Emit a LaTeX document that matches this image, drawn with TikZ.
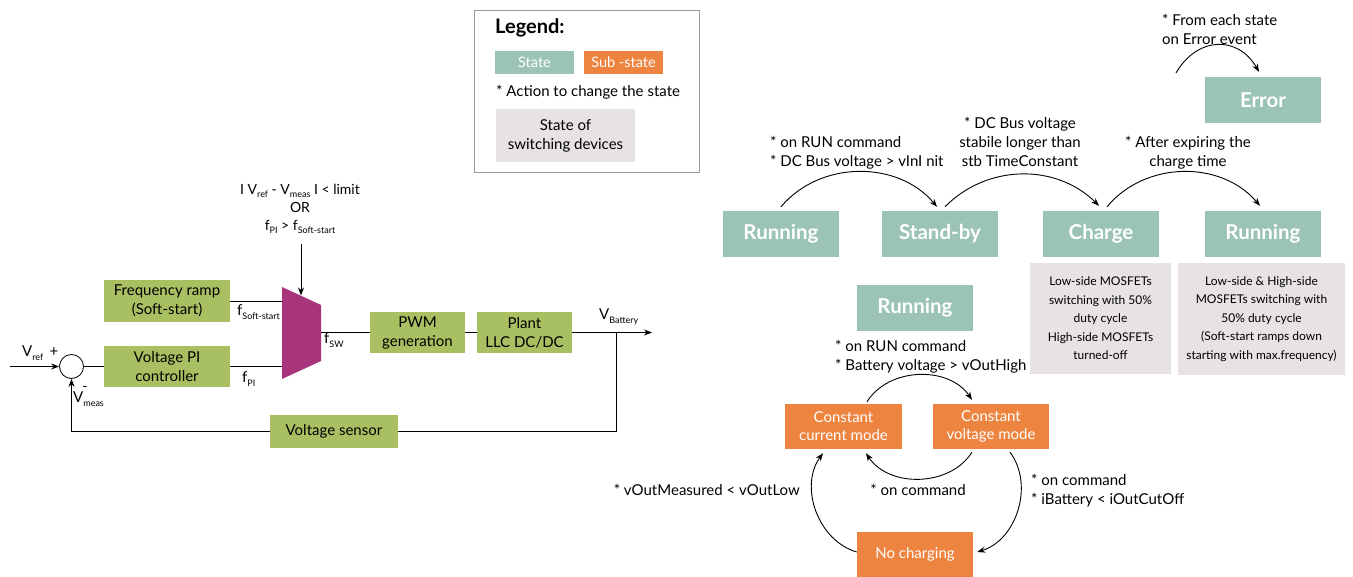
\documentclass[tikz,border=0pt]{standalone}
\usepackage{fontspec}
\setmainfont{Lato}
\usetikzlibrary{arrows.meta,calc}
\definecolor{stcol}{HTML}{9BC4B7}
\definecolor{subcol}{HTML}{ED843F}
\definecolor{gcol}{HTML}{E7E3E2}
\definecolor{olv}{HTML}{A9C062}
\definecolor{muxcol}{HTML}{A8347B}
\definecolor{legcol}{HTML}{A09AA0}
\newcommand\lo[1]{\raisebox{-0.45ex}{\fontsize{9}{10}\selectfont #1}}
\tikzset{
  stbox/.style={fill=stcol,text=white,font=\bfseries\fontsize{20.5}{24}\selectfont,minimum width=116pt,minimum height=46pt,inner sep=0pt},
  subbox/.style={fill=subcol,text=white,font=\fontsize{15}{18}\selectfont,align=center,minimum width=116pt,minimum height=45pt,inner sep=0pt},
  blk/.style={fill=olv,font=\fontsize{15}{19}\selectfont,align=center,inner sep=0pt,minimum height=41pt},
  info/.style={fill=gcol,font=\fontsize{12}{18.5}\selectfont,align=center,inner sep=0pt},
  lbl/.style={font=\fontsize{15}{19}\selectfont,inner sep=0pt},
  arr/.style={-{Stealth[length=8pt,width=6pt]},line width=0.9pt},
  ln/.style={line width=0.9pt}
}
\begin{document}
\begin{tikzpicture}[x=1pt,y=1pt]
\useasboundingbox (0,0) rectangle (1353,-577);
% ---------- left block diagram ----------
\node[blk,minimum width=126pt,minimum height=42pt] (fr) at (167,-301) {Frequency ramp\\(Soft-start)};
\node[blk,minimum width=126pt] (pi) at (167,-366.5) {Voltage PI\\controller};
\node[draw,circle,line width=0.8pt,minimum size=24pt,inner sep=0pt] (sum) at (71.5,-366.5) {};
\node[blk,minimum width=95pt] (pwm) at (417.5,-332.5) {PWM\\generation};
\node[blk,minimum width=95pt] (plant) at (524.5,-332.5) {Plant\\LLC DC/DC};
\node[blk,minimum width=128pt,minimum height=33pt] (sens) at (334,-431.5) {Voltage sensor};
\fill[muxcol] (282,-287) -- (321,-305) -- (321,-361) -- (282,-379) -- cycle;
\coordinate (muxa) at (282,-301);
\coordinate (muxb) at (282,-366.5);
\coordinate (muxo) at (321,-332.5);
\coordinate (muxt) at (301,-295.5);
\coordinate (ctop) at (301,-244);
\coordinate (vin) at (10,-366.5);
\coordinate (vout) at (652,-332.5);
\coordinate (br) at (616,-332.5);
\coordinate (fb) at (616,-431.5);
\coordinate (fbl) at (71.5,-431.5);
\draw[arr] (vin) -- (sum);
\draw[ln] (sum) -- (pi);
\draw[ln] (fr.east) -- (muxa);
\draw[ln] (pi.east) -- (muxb);
\draw[arr] (ctop) -- (muxt);
\draw[ln] (muxo) -- (pwm);
\draw[ln] (pwm) -- (plant);
\draw[arr] (plant) -- (vout);
\draw[ln] (br) -- (fb) -- (sens);
\draw[arr] (sens) -- (fbl) -- (sum);
\node[lbl,font=\fontsize{14}{18}\selectfont,align=center] (cond) at (300,-209) {I V\lo{ref} - V\lo{meas} I < limit\\OR\\f\lo{PI} > f\lo{Soft-start}};
\node[lbl,anchor=west] (lfs) at (237,-312) {f\lo{Soft-start}};
\node[lbl,anchor=west] (lfpi) at (242,-379) {f\lo{PI}};
\node[lbl,anchor=west] (lfsw) at (324,-340) {f\lo{SW}};
\node[lbl,anchor=west] (lvb) at (599,-317) {V\lo{Battery}};
\node[lbl,anchor=west] (lvr) at (22,-353) {V\lo{ref}};
\node[lbl] (lplus) at (54,-352) {+};
\node[lbl,anchor=west] (lvm) at (73,-399) {V\lo{meas}};
\node[lbl] (lminus) at (85,-389) {-};
% ---------- legend ----------
\draw[legcol,line width=1pt] (474,-11) rectangle (699,-173);
\node[anchor=west,font=\bfseries\fontsize{20}{22}\selectfont,inner sep=0pt] (leg) at (495,-28) {Legend:};
\node[fill=stcol,text=white,font=\fontsize{14.5}{16}\selectfont,minimum width=79pt,minimum height=23pt,inner sep=0pt] (lst) at (534.5,-62.5) {State};
\node[fill=subcol,text=white,font=\fontsize{14.5}{16}\selectfont,minimum width=79pt,minimum height=23pt,inner sep=0pt] (lsub) at (623.5,-62.5) {Sub -state};
\node[lbl,anchor=west] (lact) at (496,-92) {* Action to change the state};
\node[info,font=\fontsize{15}{19}\selectfont,minimum width=139pt,minimum height=53pt] (lsw) at (565.5,-135.5) {State of\\switching devices};
% ---------- top state machine ----------
\node[stbox] (run1) at (781,-234) {Running};
\node[stbox] (sb) at (940,-234) {Stand-by};
\node[stbox] (chg) at (1101,-234) {Charge};
\node[stbox] (run2) at (1263,-234) {Running};
\node[stbox] (err) at (1263,-100) {Error};
\node[info,minimum width=141pt,minimum height=111pt] (inf1) at (1100.5,-318.5) {Low-side MOSFETs\\switching with 50\%\\duty cycle\\High-side MOSFETs\\turned-off};
\node[info,minimum width=167pt,minimum height=112pt] (inf2) at (1261.5,-319) {Low-side \& High-side\\MOSFETs switching with\\50\% duty cycle\\(Soft-start ramps down\\starting with max.frequency)};
\coordinate (efrom) at (1176,-73);
\draw[arr] ([yshift=4pt]run1.north) to[bend left=50] ([xshift=-3pt,yshift=4pt]sb.north);
\draw[arr] ([xshift=5pt,yshift=4pt]sb.north) to[bend left=45] ([xshift=-2pt,yshift=5pt]chg.north);
\draw[arr] ([xshift=6pt,yshift=4pt]chg.north) to[bend left=50] ([xshift=-3pt,yshift=5pt]run2.north);
\draw[arr] (efrom) to[out=60,in=120,looseness=1.3] ([xshift=-4pt,yshift=5pt]err.north);
\node[lbl,align=left,anchor=west] (t1) at (770,-153) {* on RUN command\\* DC Bus voltage > vInI nit};
\node[lbl,align=center] (t2) at (1020,-142) {* DC Bus voltage\\stabile longer than\\stb TimeConstant};
\node[lbl,align=center] (t3) at (1188,-152.5) {* After expiring the\\charge time};
\node[lbl,align=left,anchor=west] (t4) at (1162,-29) {* From each state\\on Error event};
% ---------- bottom sub-state machine ----------
\node[stbox] (run3) at (915,-308) {Running};
\node[subbox,minimum width=117pt] (cc) at (843.5,-426.5) {Constant\\current mode};
\node[subbox] (cv) at (991,-426.5) {Constant\\voltage mode};
\node[subbox] (nc) at (915,-554.5) {No charging};
\draw[arr] ([xshift=23.5pt,yshift=2pt]cc.north) to[bend left=57] ([xshift=-19pt,yshift=4pt]cv.north);
\draw[arr] ([xshift=-19pt,yshift=-3pt]cv.south) to[bend left=57] ([xshift=22.5pt,yshift=-4pt]cc.south);
\draw[arr] ([xshift=19pt,yshift=-3pt]cv.south) to[bend left=55] ([xshift=4pt,yshift=2.5pt]nc.east);
\draw[arr] ([yshift=2.5pt]nc.west) to[bend left=55] ([xshift=-20.5pt,yshift=-4pt]cc.south);
\node[lbl,align=left,anchor=west] (t5) at (835,-356.5) {* on RUN command\\* Battery voltage > vOutHigh};
\node[lbl] (t6) at (918,-490) {* on command};
\node[lbl,align=left,anchor=west] (t7) at (1031,-490.5) {* on command\\* iBattery < iOutCutOff};
\node[lbl,anchor=east] (t8) at (800,-490) {* vOutMeasured < vOutLow};
\end{tikzpicture}
\end{document}
